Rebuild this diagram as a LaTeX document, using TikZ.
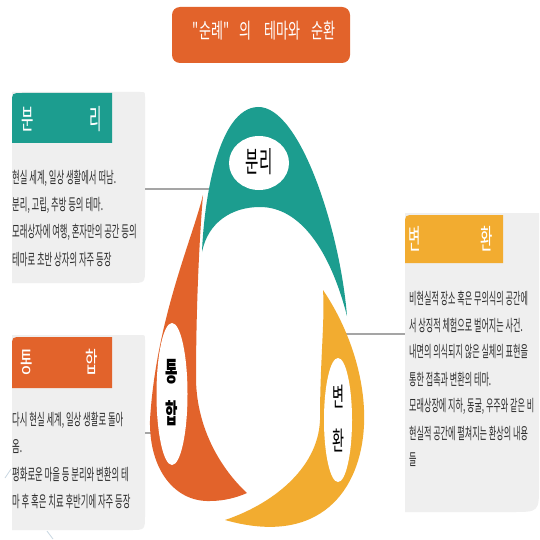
\documentclass[tikz,border=0pt]{standalone}
\usepackage{fontspec}
\usetikzlibrary{shapes.geometric}
\newfontfamily\krbody[FakeStretch=0.52]{Noto Sans CJK KR}
\newfontfamily\krbodyr[FakeStretch=0.505]{Noto Sans CJK KR}
\newfontfamily\krhead[FakeStretch=0.48]{Noto Sans CJK KR}
\newfontfamily\krlbl[FakeStretch=0.5]{Noto Sans CJK KR}
\newfontfamily\krtitle[FakeStretch=0.62]{Noto Sans CJK KR}
\definecolor{teal1}{RGB}{28,157,143}
\definecolor{orange1}{RGB}{226,99,43}
\definecolor{yellow1}{RGB}{242,172,48}
\definecolor{boxgray}{RGB}{239,239,239}
\definecolor{conngray}{RGB}{165,165,165}
\definecolor{bodygray}{RGB}{45,45,45}
\definecolor{faintblue}{RGB}{200,215,226}
\tikzset{
  conn/.style={draw=conngray, line width=1.3pt},
  bodytxt/.style={anchor=west, inner sep=0pt, text=bodygray, font=\krbody\fontsize{16}{18}\selectfont},
  bodytxtr/.style={bodytxt, font=\krbodyr\fontsize{16}{18}\selectfont},
  headtxt/.style={inner sep=0pt, text=white, font=\krhead\fontsize{28}{30}\selectfont},
  lbltxt/.style={inner sep=0pt, text=black, font=\krlbl\fontsize{26}{28}\selectfont},
  hole/.style={ellipse, fill=white, draw=none, inner sep=0pt},
  titlebox/.style={fill=orange1, rounded corners=8pt, minimum width=178pt, minimum height=56pt, inner sep=0pt},
  titletxt/.style={inner sep=0pt, text=white, font=\krtitle\fontsize{21}{24}\selectfont},
  faint/.style={draw=faintblue, line width=0.8pt}
}
\begin{document}
\begin{tikzpicture}[x=1pt,y=-1pt]
\useasboundingbox (0,0) rectangle (539,540);
\fill[white] (0,0) rectangle (539,540);

% faint arcs
\draw[faint] (11,469) -- (5,478);
\draw[faint] (47,531) -- (53,539);

% title
\node[titlebox] (titlebg) at (261,35) {};
\node[titletxt] (title) at (264,31) {"순례"\hspace{10pt}의\hspace{13pt}테마와\hspace{11pt}순환};

% box: separation
\fill[boxgray] (12,92) -- (140,92) .. controls (145,92) .. (145,97) -- (145,268) .. controls (145,283) .. (130,283) -- (12,283) -- cycle;
\fill[teal1] (12,143) -- (12,103) .. controls (12,93) .. (22,93) -- (112,93) -- (112,143) -- cycle;
\node[headtxt] (h1a) at (28,119) {분};
\node[headtxt] (h1b) at (96,119) {리};
\node[bodytxt] (t1a) at (12,178) {현실 세계, 일상 생활에서 떠남.};
\node[bodytxt] (t1b) at (12,205) {분리, 고립, 추방 등의 테마.};
\node[bodytxt] (t1c) at (12,232) {모래상자에 여행, 혼자만의 공간 등의};
\node[bodytxt] (t1d) at (12,260) {테마로 초반 상자의 자주 등장};

% box: integration
\fill[boxgray] (12,335) -- (140,335) .. controls (145,335) .. (145,340) -- (145,515) .. controls (145,530) .. (130,530) -- (12,530) -- cycle;
\fill[orange1] (12,388) -- (12,347) .. controls (12,337) .. (22,337) -- (112,337) -- (112,388) -- cycle;
\node[headtxt] (h2a) at (27,362) {통};
\node[headtxt] (h2b) at (92,362) {합};
\node[bodytxt] (t2a) at (12,420) {다시 현실 세계, 일상 생활로 돌아};
\node[bodytxt] (t2b) at (12,447) {옴.};
\node[bodytxt] (t2c) at (12,474) {평화로운 마을 등 분리와 변환의 테};
\node[bodytxt] (t2d) at (12,501) {마 후 혹은 치료 후반기에 자주 등장};

% box: transformation
\fill[boxgray] (405,213) -- (539,213) -- (539,485) .. controls (539,512) .. (512,512) -- (405,512) -- cycle;
\fill[yellow1] (405,263) -- (405,225) .. controls (405,215) .. (415,215) -- (503,215) -- (503,263) -- cycle;
\node[headtxt] (h3a) at (415,239) {변};
\node[headtxt] (h3b) at (487,239) {환};
\node[bodytxtr] (t3a) at (409,298) {비현실적 장소 혹은 무의식의 공간에};
\node[bodytxtr] (t3b) at (409,325) {서 상징적 체험으로 벌어지는 사건.};
\node[bodytxtr] (t3c) at (409,352) {내면의 의식되지 않은 실체의 표현을};
\node[bodytxtr] (t3d) at (409,379) {통한 접촉과 변환의 테마.};
\node[bodytxtr] (t3e) at (409,406) {모래상장에 지하, 동굴, 우주와 같은 비};
\node[bodytxtr] (t3f) at (409,433) {현실적 공간에 펼쳐지는 환상의 내용};
\node[bodytxtr] (t3g) at (409,460) {들};

% connectors
\coordinate (c1a) at (145,189); \coordinate (c1b) at (214,189);
\coordinate (c2a) at (340,334); \coordinate (c2b) at (405,334);
\coordinate (c3a) at (145,433); \coordinate (c3b) at (156,433);
\draw[conn] (c1a) -- (c1b);
\draw[conn] (c2a) -- (c2b);
\draw[conn] (c3a) -- (c3b);

% teal shape
\fill[teal1] (202,252) .. controls (204,200) and (218,108) .. (258,107)
  .. controls (300,106) and (340,230) .. (347,316)
  .. controls (330,250) and (300,207) .. (260,207)
  .. controls (232,207) and (208,222) .. (202,252) -- cycle;
% orange shape
\fill[orange1] (203,195) .. controls (192,240) and (156,320) .. (150,420)
  .. controls (149,470) and (175,502) .. (210,501)
  .. controls (225,501) and (238,497) .. (247,493)
  .. controls (222,470) and (197,430) .. (196,380)
  .. controls (196,300) and (200,230) .. (203,195) -- cycle;
% yellow shape
\fill[yellow1] (323,290) .. controls (350,330) and (366,380) .. (364,425)
  .. controls (361,490) and (320,547) .. (225,520)
  .. controls (270,505) and (318,470) .. (320,420)
  .. controls (320,360) and (325,320) .. (323,290) -- cycle;

% label holes
\node[hole, minimum width=60pt, minimum height=54pt] (l1) at (259,163) {};
\node[hole, minimum width=31pt, minimum height=142pt] (l2) at (172,394) {};
\node[hole, minimum width=28pt, minimum height=124pt] (l3) at (338,420) {};
\node[lbltxt, font=\krlbl\fontsize{29}{30}\selectfont] (l1t) at (259,162) {분리};
\node[lbltxt, font=\krlbl\bfseries\fontsize{27}{30}\selectfont] (l2a) at (172,372) {통};
\node[lbltxt, font=\krlbl\bfseries\fontsize{27}{30}\selectfont] (l2b) at (172,413) {합};
\node[lbltxt] (l3a) at (338,397) {변};
\node[lbltxt] (l3b) at (338,440) {환};
\end{tikzpicture}
\end{document}
